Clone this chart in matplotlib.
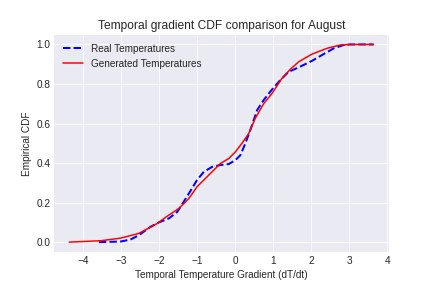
import matplotlib
matplotlib.use("Agg")
import matplotlib.pyplot as plt

# CDF of temporal gradient
real_x = [-3.58, -3.01, -2.75, -2.53, -2.22, -2.0, -1.74, -1.52, -1.35, -1.17, -1.0,
          -0.82, -0.60, -0.385, -0.166, 0.01, 0.14, 0.27, 0.40, 0.58, 0.75, 0.97,
          1.19, 1.41, 1.67, 2.02, 2.28, 2.59, 2.85, 3.03, 3.64]
real_cdf = [0.0, 0.003, 0.013, 0.035, 0.078, 0.10, 0.12, 0.153, 0.204, 0.26, 0.314,
            0.356, 0.381, 0.39, 0.395, 0.415, 0.44, 0.50, 0.567, 0.668, 0.718, 0.772,
            0.82, 0.862, 0.884, 0.917, 0.946, 0.98, 0.997, 1.0, 1.0]

gen_x = [-4.36, -3.53, -3.01, -2.53, -2.05, -1.83, -1.48, -1.22, -1.0, -0.65, -0.385,
         -0.166, 0.01, 0.18, 0.36, 0.53, 0.75, 0.97, 1.23, 1.45, 1.67, 2.02, 2.41,
         2.76, 3.03, 3.64]
gen_cdf = [0.0, 0.007, 0.02, 0.044, 0.094, 0.125, 0.17, 0.22, 0.28, 0.347, 0.398,
           0.423, 0.457, 0.50, 0.55, 0.626, 0.70, 0.752, 0.828, 0.874, 0.912, 0.951,
           0.98, 0.997, 1.0, 1.0]

plt.style.use("seaborn-v0_8-darkgrid")
fig, ax = plt.subplots(figsize=(6, 4), dpi=72)
fig.subplots_adjust(left=0.125, right=0.9, top=0.88, bottom=0.125)

ax.plot(real_x, real_cdf, "b--", linewidth=2, label="Real Temperatures")
ax.plot(gen_x, gen_cdf, "r-", linewidth=1.5, label="Generated Temperatures")

ax.set_xlabel("Temporal Temperature Gradient (dT/dt)")
ax.set_ylabel("Empirical CDF")
ax.set_title("Temporal gradient CDF comparison for August")
ax.legend(loc="upper left")

fig.savefig("out.png", dpi=72)
